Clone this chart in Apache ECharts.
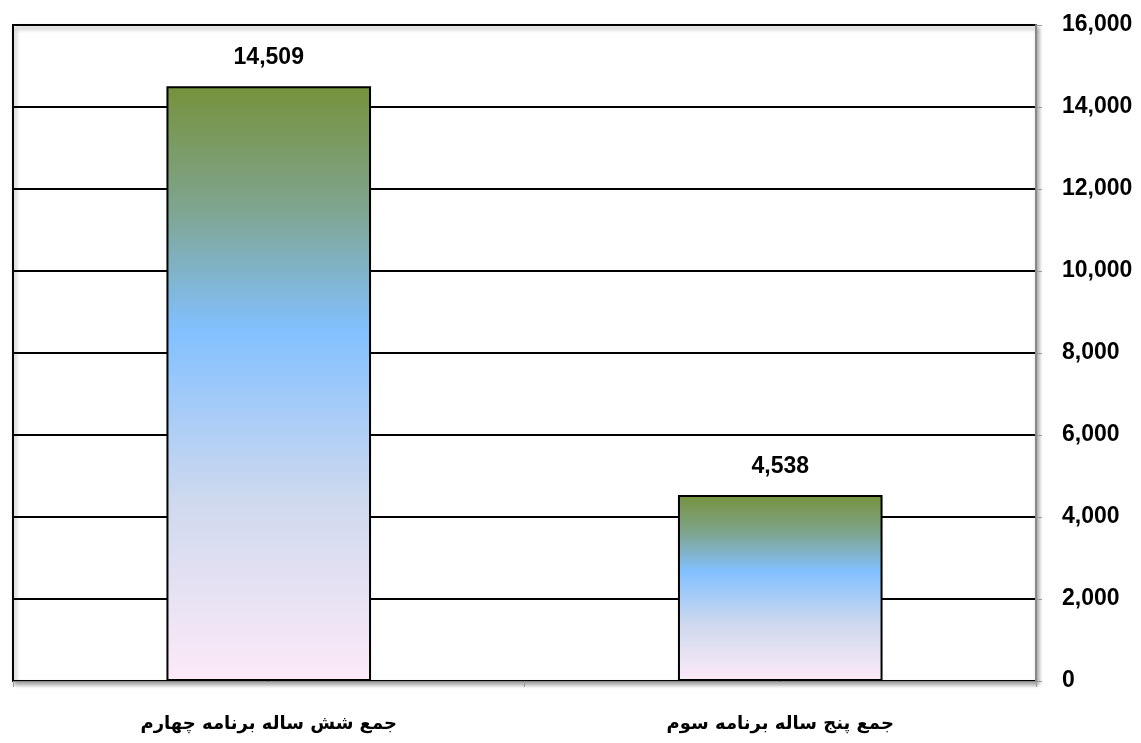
<!DOCTYPE html>
<html>
<head>
<meta charset="utf-8">
<script src="https://cdn.jsdelivr.net/npm/echarts@6/dist/echarts.min.js"></script>
<style>html,body{margin:0;padding:0;background:#fff}#c{width:1141px;height:743px}</style>
</head>
<body>
<div id="c"></div>
<script>
const categories = ['جمع شش ساله برنامه چهارم', 'جمع پنج ساله برنامه سوم'];
const values = [14509, 4538];
const yMin = 0, yMax = 16000, yInterval = 2000;

const chart = echarts.init(document.getElementById('c'));
const grad = new echarts.graphic.LinearGradient(0, 0, 0, 1, [
  {offset: 0, color: '#76923c'},
  {offset: 0.2, color: '#7ea48c'},
  {offset: 0.41, color: '#82c0ff'},
  {offset: 0.7, color: '#cfd9ee'},
  {offset: 1, color: '#fdeaf8'}
]);
chart.setOption({
  animation: false,
  grid: {left: 13, right: 105, top: 25, bottom: 62, show: true, borderColor: '#000', borderWidth: 2,
    backgroundColor: '#fff', shadowColor: 'rgba(0,0,0,0.35)', shadowBlur: 4, shadowOffsetX: 2, shadowOffsetY: 3},
  xAxis: {
    type: 'category', data: categories,
    axisLine: {show: true, onZero: false, lineStyle: {color: '#888', width: 1}},
    axisTick: {show: true, length: 6, lineStyle: {color: '#999'}},
    axisLabel: {margin: 34, color: '#000', fontWeight: 'bold', fontSize: 18, fontFamily: 'DejaVu Sans'}
  },
  yAxis: {
    type: 'value', position: 'right', min: yMin, max: yMax, interval: yInterval,
    axisLine: {show: true, lineStyle: {color: '#888', width: 2}},
    axisTick: {show: true, length: 6, lineStyle: {color: '#999'}},
    splitLine: {show: true, lineStyle: {color: '#000', width: 2}},
    axisLabel: {margin: 26, color: '#000', fontWeight: 'bold', fontSize: 23, fontFamily: 'Liberation Sans',
      formatter: v => v.toLocaleString('en-US')}
  },
  series: [{
    type: 'bar', data: values, barWidth: '40%',
    itemStyle: {color: grad, borderColor: '#000', borderWidth: 2},
    label: {show: true, position: 'top', distance: 17, color: '#000', fontWeight: 'bold', fontSize: 23,
      fontFamily: 'Liberation Sans', formatter: p => p.value.toLocaleString('en-US')}
  }]
});
</script>
</body>
</html>
